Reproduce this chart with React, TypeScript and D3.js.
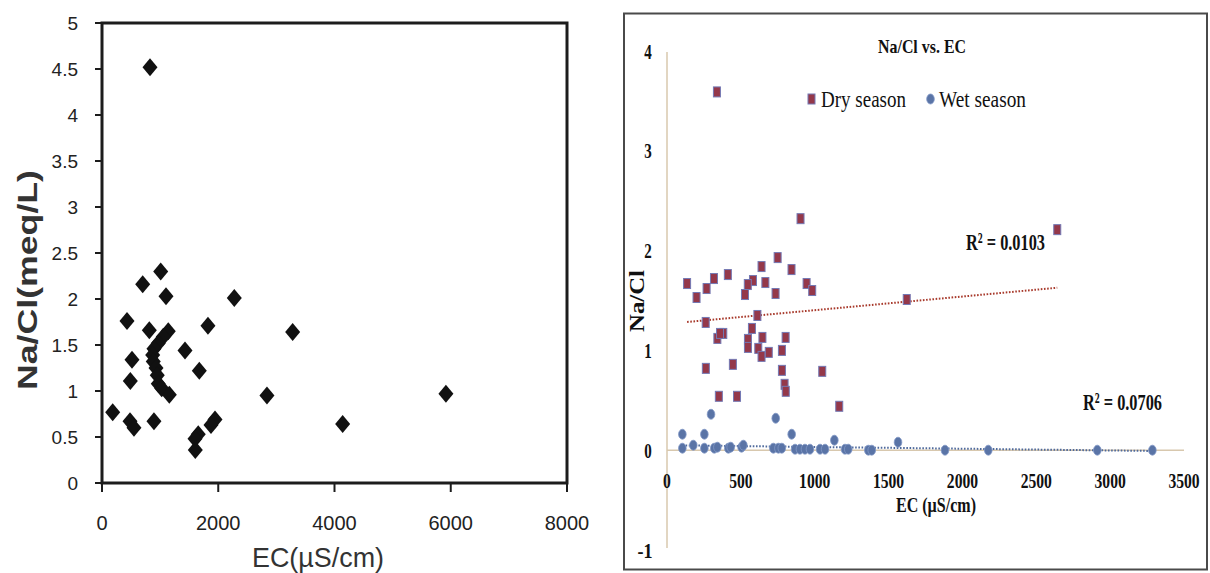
import React from "react";
import * as d3 from "d3";

// ---------- Left chart data (EC µS/cm, Na/Cl meq/L) ----------
const leftEC = [826, 1010, 700, 1101, 2276, 430, 1823, 814, 1140, 3280, 1054, 968, 894, 872, 882, 929, 951, 968, 1027, 1158, 1428, 516, 1674, 487, 2838, 184, 482, 550, 894, 1944, 1875, 1656, 1600, 1605, 4140, 5917];
const leftRatio = [4.52, 2.3, 2.16, 2.03, 2.01, 1.76, 1.71, 1.66, 1.65, 1.64, 1.59, 1.52, 1.46, 1.39, 1.32, 1.25, 1.17, 1.08, 1.03, 0.96, 1.44, 1.34, 1.22, 1.11, 0.95, 0.77, 0.67, 0.6, 0.67, 0.69, 0.63, 0.53, 0.48, 0.36, 0.64, 0.97];
const leftXTicks = [0, 2000, 4000, 6000, 8000];
const leftYTicks = [0, 0.5, 1, 1.5, 2, 2.5, 3, 3.5, 4, 4.5, 5];

// ---------- Right chart data ----------
const dryEC = [338, 904, 2642, 749, 640, 843, 412, 318, 136, 582, 547, 666, 945, 268, 528, 735, 983, 200, 1623, 262, 612, 575, 341, 381, 359, 548, 548, 646, 803, 618, 640, 689, 778, 263, 446, 778, 1051, 796, 804, 351, 474, 1166];
const dryRatio = [3.59, 2.32, 2.21, 1.93, 1.84, 1.81, 1.76, 1.72, 1.67, 1.7, 1.66, 1.68, 1.67, 1.62, 1.56, 1.57, 1.6, 1.53, 1.51, 1.28, 1.35, 1.22, 1.12, 1.17, 1.17, 1.11, 1.03, 1.13, 1.13, 1.02, 0.94, 0.98, 1.0, 0.82, 0.86, 0.8, 0.79, 0.66, 0.59, 0.54, 0.54, 0.44];
const wetEC = [104, 104, 178, 253, 253, 298, 320, 341, 415, 431, 505, 517, 720, 736, 754, 777, 844, 867, 900, 934, 968, 1036, 1070, 1133, 1205, 1227, 1363, 1386, 1564, 1882, 2175, 2913, 3286];
const wetRatio = [0.16, 0.02, 0.05, 0.16, 0.02, 0.36, 0.02, 0.03, 0.02, 0.03, 0.03, 0.05, 0.02, 0.32, 0.02, 0.02, 0.16, 0.01, 0.01, 0.01, 0.01, 0.01, 0.01, 0.1, 0.01, 0.01, 0.0, 0.0, 0.08, 0.0, 0.0, 0.0, 0.0];
const dryFit = { slope: 0.000137, intercept: 1.266, r2: "0.0103" };
const wetFit = { slope: -0.0000175, intercept: 0.05, r2: "0.0706" };
const rightXTicks = [0, 500, 1000, 1500, 2000, 2500, 3000, 3500];
const rightYTicks = [-1, 0, 1, 2, 3, 4];

const SANS = "'Liberation Sans', Arial, sans-serif";
const SERIF = "'Liberation Serif', 'Times New Roman', serif";

function LeftChart() {
  const x = d3.scaleLinear().domain([0, 8000]).range([102, 567]);
  const y = d3.scaleLinear().domain([0, 5]).range([483, 23]);
  const diamond = (cx: number, cy: number) =>
    `M${cx},${cy - 9}L${cx + 7.5},${cy}L${cx},${cy + 9}L${cx - 7.5},${cy}Z`;
  return (
    <g>
      <rect x={x(0)} y={y(5)} width={x(8000) - x(0)} height={y(0) - y(5)} fill="white" stroke="#1c1c1c" strokeWidth={3} />
      {leftYTicks.map((t) => (
        <g key={"ly" + t}>
          <line x1={x(0) - 7} x2={x(0)} y1={y(t)} y2={y(t)} stroke="#1c1c1c" strokeWidth={2} />
          <text x={78} y={y(t)} dominantBaseline="central" textAnchor="end" fontFamily={SANS} fontSize={19} fill="#222">
            {t}
          </text>
        </g>
      ))}
      {leftXTicks.map((t) => (
        <g key={"lx" + t}>
          <line x1={x(t)} x2={x(t)} y1={y(0)} y2={y(0) + 9} stroke="#1c1c1c" strokeWidth={2} />
          <text x={x(t)} y={523} dominantBaseline="central" textAnchor="middle" fontFamily={SANS} fontSize={20} fill="#222">
            {t}
          </text>
        </g>
      ))}
      {leftEC.map((v, i) => (
        <path key={"ld" + i} d={diamond(x(v), y(leftRatio[i]))} fill="#111" />
      ))}
      <text
        transform={`translate(28,280) rotate(-90)`}
        textAnchor="middle"
        dominantBaseline="central"
        fontFamily={SANS}
        fontWeight="bold"
        fontSize={27}
        fill="#333"
        textLength={220}
        lengthAdjust="spacingAndGlyphs"
      >
        Na/Cl(meq/L)
      </text>
      <text x={318} y={557} textAnchor="middle" dominantBaseline="central" fontFamily={SANS} fontSize={28} fill="#333" textLength={132} lengthAdjust="spacingAndGlyphs">
        EC(µS/cm)
      </text>
    </g>
  );
}

function RightChart() {
  const x = d3.scaleLinear().domain([0, 3500]).range([667, 1184]);
  const y = d3.scaleLinear().domain([-1, 4]).range([550, 51]);
  const dryExt = d3.extent(dryEC) as [number, number];
  const wetExt = d3.extent(wetEC) as [number, number];
  const line = d3
    .line<number>()
    .x((d) => x(d))
    .y((d) => 0);
  const trend = (ext: [number, number], fit: { slope: number; intercept: number }) =>
    d3
      .line<number>()
      .x((d) => x(d))
      .y((d) => y(fit.intercept + fit.slope * d))(ext) || "";
  void line;
  return (
    <g>
      <rect x={624} y={13.5} width={583} height={556} fill="white" stroke="#4a4a4a" strokeWidth={2} />
      {/* axes */}
      <line x1={x(0)} x2={x(0)} y1={y(3.99)} y2={y(-0.98)} stroke="#d8c8ae" strokeWidth={1.5} />
      <line x1={x(0)} x2={x(3500)} y1={y(0)} y2={y(0)} stroke="#d8c8ae" strokeWidth={1.5} />
      {rightYTicks.map((t) => (
        <text key={"ry" + t} x={t < 0 ? 645 : 648} y={y(t)} textAnchor="middle" dominantBaseline="central" fontFamily={SERIF} fontWeight="bold" fontSize={22} fill="#111" textLength={String(t).length * 7.5} lengthAdjust="spacingAndGlyphs">
          {t}
        </text>
      ))}
      {rightXTicks.map((t) => (
        <text key={"rx" + t} x={x(t)} y={481} textAnchor="middle" dominantBaseline="central" fontFamily={SERIF} fontWeight="bold" fontSize={21} fill="#111" textLength={String(t).length * 7.8} lengthAdjust="spacingAndGlyphs">
          {t}
        </text>
      ))}
      {/* trend lines */}
      <path d={trend(wetExt, wetFit)} stroke="#4f6a9c" strokeWidth={2} strokeDasharray="1.6,1.6" fill="none" />
      <path d={trend(dryExt, dryFit)} stroke="#a83a2c" strokeWidth={2} strokeDasharray="1.6,1.6" fill="none" />
      {/* wet points */}
      {wetEC.map((v, i) => (
        <ellipse key={"w" + i} cx={x(v)} cy={y(wetRatio[i])} rx={3.8} ry={5} fill="#5a74a6" stroke="#8298c6" strokeWidth={0.8} />
      ))}
      {/* dry points */}
      {dryEC.map((v, i) => (
        <rect key={"d" + i} x={x(v) - 3.5} y={y(dryRatio[i]) - 5} width={7} height={10} fill="#94384a" stroke="#7479b4" strokeWidth={1} />
      ))}
      {/* title */}
      <text x={922} y={46} textAnchor="middle" dominantBaseline="central" fontFamily={SERIF} fontWeight="bold" fontSize={19} fill="#111" textLength={88} lengthAdjust="spacingAndGlyphs">
        Na/Cl vs. EC
      </text>
      {/* legend */}
      <rect x={808} y={94} width={7} height={10} fill="#94384a" stroke="#7479b4" strokeWidth={1} />
      <text x={821} y={99} dominantBaseline="central" fontFamily={SERIF} fontSize={23} fill="#111" textLength={85} lengthAdjust="spacingAndGlyphs">
        Dry season
      </text>
      <ellipse cx={930.5} cy={99} rx={3.8} ry={5} fill="#5a74a6" stroke="#8298c6" strokeWidth={0.8} />
      <text x={939} y={99} dominantBaseline="central" fontFamily={SERIF} fontSize={23} fill="#111" textLength={87} lengthAdjust="spacingAndGlyphs">
        Wet season
      </text>
      {/* R² labels */}
      <text x={966} y={242} dominantBaseline="central" fontFamily={SERIF} fontWeight="bold" fontSize={24} fill="#111" textLength={79} lengthAdjust="spacingAndGlyphs">
        {"R² = " + dryFit.r2}
      </text>
      <text x={1083} y={402} dominantBaseline="central" fontFamily={SERIF} fontWeight="bold" fontSize={24} fill="#111" textLength={79} lengthAdjust="spacingAndGlyphs">
        {"R² = " + wetFit.r2}
      </text>
      {/* axis titles */}
      <text x={936} y={505} textAnchor="middle" dominantBaseline="central" fontFamily={SERIF} fontWeight="bold" fontSize={21} fill="#111" textLength={80} lengthAdjust="spacingAndGlyphs">
        EC (µS/cm)
      </text>
      <text transform="translate(636,301) rotate(-90)" textAnchor="middle" dominantBaseline="central" fontFamily={SERIF} fontWeight="bold" fontSize={22} fill="#111" textLength={62} lengthAdjust="spacingAndGlyphs">
        Na/Cl
      </text>
    </g>
  );
}

export default function App() {
  return (
    <svg width={1210} height={573} style={{ position: "absolute", left: 0, top: 0, background: "white" }}>
      <rect x={0} y={0} width={1210} height={573} fill="white" />
      <LeftChart />
      <RightChart />
    </svg>
  );
}
